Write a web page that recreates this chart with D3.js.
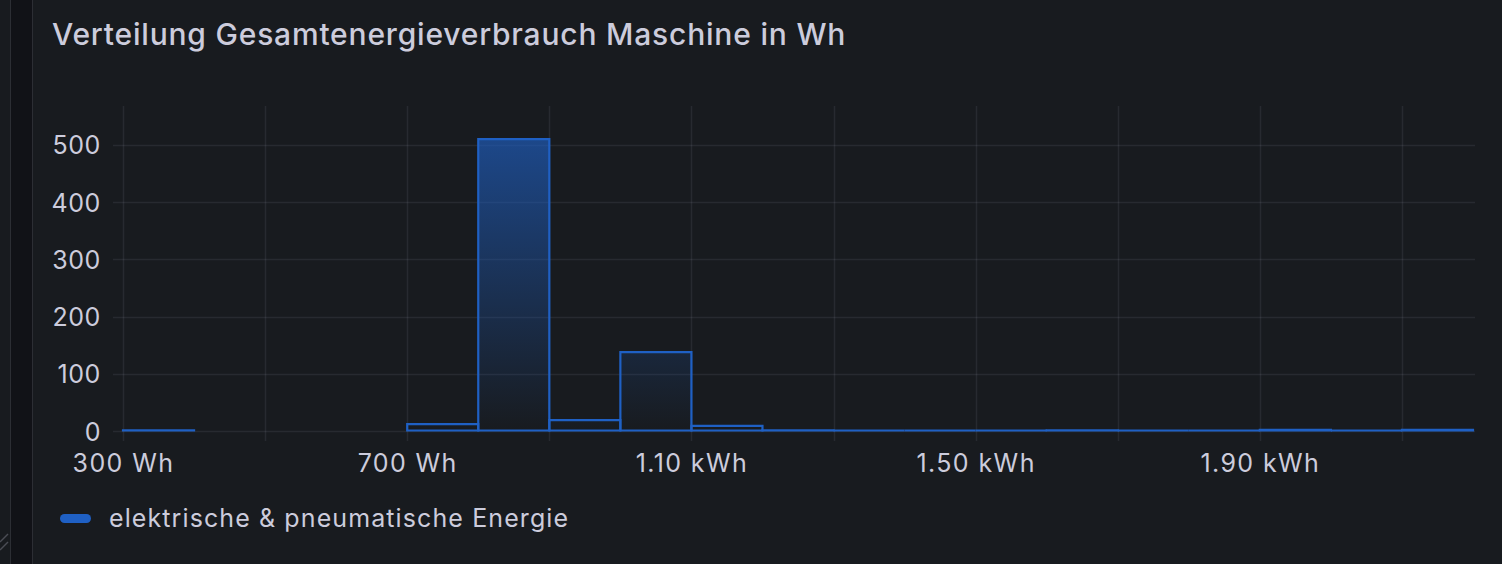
<!DOCTYPE html>
<html lang="de">
<head>
<meta charset="utf-8">
<title>Verteilung Gesamtenergieverbrauch Maschine in Wh</title>
<script src="https://cdn.jsdelivr.net/npm/d3@7"></script>
<style>
  html, body { margin: 0; padding: 0; background: #181b1f; }
  svg { display: block; font-family: Inter, "Noto Sans", sans-serif; }
</style>
</head>
<body>
<svg id="chart" width="1502" height="564"></svg>
<script>
// histogram bins (Wh) and counts
const binStart = [300, 700, 800, 900, 1000, 1100, 1200, 1300, 1400, 1500, 1600, 1700, 1800, 1900, 2000, 2100];
const binEnd   = [400, 800, 900, 1000, 1100, 1200, 1300, 1400, 1500, 1600, 1700, 1800, 1900, 2000, 2100, 2200];
const counts   = [1, 12, 510, 19, 138, 9, 1, 0, 0, 0, 1, 0, 0, 2, 0, 2];
const yTicks = [0, 100, 200, 300, 400, 500];
const xLabelTicks = [300, 700, 1100, 1500, 1900];
const xGridTicks = [300, 500, 700, 900, 1100, 1300, 1500, 1700, 1900, 2100];
const seriesName = "elektrische & pneumatische Energie";
const title = "Verteilung Gesamtenergieverbrauch Maschine in Wh";

const blue = "#1f60c4";
const textCol = "#ccccdc";
const gridCol = "rgba(204,204,220,0.09)";

const svg = d3.select("#chart");

// panel frame on the left
svg.append("rect").attr("x", 0).attr("y", 0).attr("width", 1502).attr("height", 564).attr("fill", "#181b1f");
svg.append("rect").attr("x", 11).attr("y", 0).attr("width", 21).attr("height", 564).attr("fill", "#111217");
svg.append("line").attr("x1", 10.5).attr("x2", 10.5).attr("y1", 0).attr("y2", 564).attr("stroke", "#2c2e34");
svg.append("line").attr("x1", 32.5).attr("x2", 32.5).attr("y1", 0).attr("y2", 564).attr("stroke", "#2c2e34");
// resize handle hatch
[0, 8].forEach(o => svg.append("line")
  .attr("x1", 0).attr("y1", 550 - o).attr("x2", 8).attr("y2", 542 - o)
  .attr("stroke", "#4a4d55").attr("stroke-width", 1.5));

svg.append("text")
  .attr("x", 52).attr("y", 45)
  .attr("fill", textCol)
  .style("font-size", "30px")
  .style("font-weight", 500)
  .style("letter-spacing", "0.8px")
  .text(title);

const x = d3.scaleLinear().domain([300, 2200]).range([123, 1473]);
const y = d3.scaleLinear().domain([0, 568]).range([431, 106]);

// grid
svg.append("g").selectAll("line").data(yTicks).join("line")
  .attr("x1", 113).attr("x2", 1475)
  .attr("y1", d => Math.round(y(d)) + 0.5).attr("y2", d => Math.round(y(d)) + 0.5)
  .attr("stroke", gridCol).attr("stroke-width", 1.5);
svg.append("g").selectAll("line").data(xGridTicks).join("line")
  .attr("x1", d => Math.round(x(d)) + 0.5).attr("x2", d => Math.round(x(d)) + 0.5)
  .attr("y1", 106).attr("y2", 441)
  .attr("stroke", gridCol).attr("stroke-width", 1.5);

// y axis labels
const yAxis = d3.axisLeft(y).tickValues(yTicks).tickSize(0).tickPadding(0);
svg.append("g")
  .attr("transform", "translate(101,0)")
  .call(yAxis)
  .call(g => g.select(".domain").remove())
  .selectAll("text")
  .attr("fill", textCol)
  .attr("dy", "0.36em")
  .style("font-size", "25px")
  .style("letter-spacing", "0.6px")
  .style("font-family", "Inter, sans-serif");

// x axis labels
const xAxis = d3.axisBottom(x).tickValues(xLabelTicks).tickSize(0).tickPadding(0)
  .tickFormat(d => d >= 1000 ? d3.format(".2f")(d / 1000) + " kWh" : d + " Wh");
svg.append("g")
  .attr("transform", "translate(0,472)")
  .call(xAxis)
  .call(g => g.select(".domain").remove())
  .selectAll("text")
  .attr("fill", textCol)
  .attr("dy", "0")
  .style("font-size", "25px")
  .style("letter-spacing", "1.4px")
  .style("font-family", "Inter, sans-serif");

// gradient fill
const defs = svg.append("defs");
const grad = defs.append("linearGradient")
  .attr("id", "fillGrad")
  .attr("gradientUnits", "userSpaceOnUse")
  .attr("x1", 0).attr("x2", 0).attr("y1", y(568)).attr("y2", y(0));
grad.append("stop").attr("offset", 0).attr("stop-color", blue).attr("stop-opacity", 0.72);
grad.append("stop").attr("offset", 1).attr("stop-color", blue).attr("stop-opacity", 0.0);

const bins = counts.map((c, i) => ({ x0: binStart[i], x1: binEnd[i], v: c }));

// each bin as a closed path so empty bins still show their baseline
svg.append("g").selectAll("path").data(bins).join("path")
  .attr("d", d => {
    const a = x(d.x0), b = x(d.x1), t = y(d.v), z = y(0) - 0.5;
    return `M${a},${z}V${Math.min(t, z)}H${b}V${z}Z`;
  })
  .attr("fill", "url(#fillGrad)")
  .attr("stroke", blue)
  .attr("stroke-width", 2.2);

// legend
svg.append("line")
  .attr("x1", 64.5).attr("x2", 86.5).attr("y1", 518.5).attr("y2", 518.5)
  .attr("stroke", blue).attr("stroke-width", 9).attr("stroke-linecap", "round");
svg.append("text")
  .attr("x", 109).attr("y", 527)
  .attr("fill", textCol)
  .style("font-size", "25px")
  .style("letter-spacing", "1.1px")
  .text(seriesName);
</script>
</body>
</html>
